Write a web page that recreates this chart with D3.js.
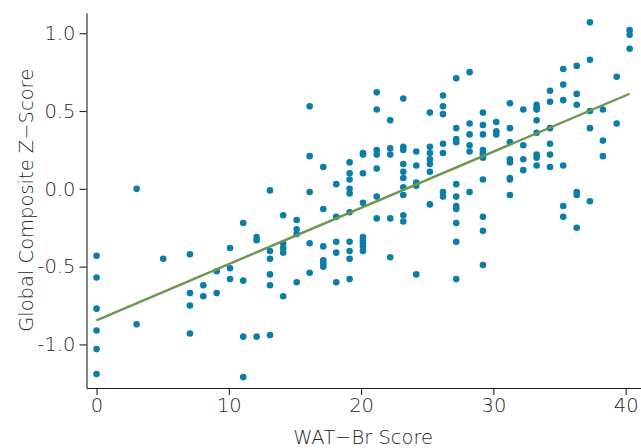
<!DOCTYPE html>
<html lang="en">
<head>
<meta charset="UTF-8" />
<title>WAT-Br Score vs Global Composite Z-Score</title>
<script src="https://d3js.org/d3.v7.min.js"></script>
<style>
  body { margin: 0; background: #fff; }
  svg text { font-family: "DejaVu Sans", sans-serif; font-weight: 300; }
  .dot { fill: #0a7ea8; }
  .fit { stroke: #6e9650; stroke-width: 2.4; fill: none; }
  .axis path, .axis line { stroke: #222; stroke-width: 1.1; }
  .axis text { fill: #262626; font-size: 19.5px; }
  .title { fill: #262626; font-size: 19.5px; }
</style>
</head>
<body>
<script>
// WAT-Br score columns
const scores = [0, 3.03, 5.04, 7.06, 8.07, 9.08, 10.09, 11.09, 12.1, 13.11, 14.11, 15.13,
  16.11, 17.14, 18.12, 19.13, 20.14, 21.18, 22.2, 23.19, 24.17, 25.2, 26.19, 27.19,
  28.2, 29.21, 30.22, 31.25, 32.26, 33.27, 34.28, 35.28, 36.3, 37.3, 38.28, 39.32, 40.3];

// global composite z-scores for each score column
const zScores = [
  [-0.43, -0.57, -0.77, -0.91, -1.03, -1.19],
  [0.00, -0.87],
  [-0.45],
  [-0.42, -0.67, -0.75, -0.93],
  [-0.62, -0.69],
  [-0.53, -0.67],
  [-0.38, -0.51, -0.58],
  [-0.22, -0.59, -0.95, -1.21],
  [-0.31, -0.33, -0.95],
  [-0.01, -0.40, -0.45, -0.55, -0.62, -0.94],
  [-0.17, -0.35, -0.38, -0.41, -0.69],
  [-0.20, -0.26, -0.29, -0.60],
  [0.53, 0.21, -0.02, -0.35, -0.54],
  [0.14, -0.13, -0.37, -0.46, -0.48, -0.50],
  [0.03, -0.18, -0.34, -0.41, -0.60],
  [0.17, 0.10, 0.06, 0.00, -0.03, -0.15, -0.34, -0.40, -0.45, -0.58],
  [0.23, 0.22, 0.10, -0.09, -0.31, -0.33, -0.35, -0.37, -0.40],
  [0.62, 0.51, 0.25, 0.22, 0.13, -0.05, -0.19],
  [0.44, 0.26, 0.22, -0.19, -0.44],
  [0.58, 0.27, 0.25, 0.16, 0.11, 0.07, 0.01, -0.04, -0.17, -0.21],
  [0.24, 0.15, 0.04, 0.02, -0.55],
  [0.49, 0.27, 0.23, 0.19, 0.16, 0.11, -0.10],
  [0.60, 0.53, 0.48, 0.29, 0.23, -0.02, -0.05],
  [0.71, 0.39, 0.32, 0.30, 0.03, -0.05, -0.11, -0.13, -0.22, -0.34, -0.58],
  [0.75, 0.42, 0.35, 0.28, 0.24, -0.02],
  [0.49, 0.41, 0.35, 0.25, 0.23, 0.21, 0.20, 0.06, -0.18, -0.27, -0.49],
  [0.43, 0.37, 0.35],
  [0.55, 0.39, 0.30, 0.19, 0.17, 0.07, 0.06, -0.04],
  [0.51, 0.28, 0.19, 0.12],
  [0.54, 0.52, 0.51, 0.44, 0.36, 0.22, 0.20, 0.15],
  [0.63, 0.56, 0.39, 0.29, 0.22, 0.14],
  [0.77, 0.67, 0.57, 0.15, -0.11, -0.18],
  [0.79, 0.61, 0.54, -0.02, -0.04, -0.25],
  [1.07, 0.83, 0.50, 0.39, -0.08],
  [0.51, 0.31, 0.21],
  [0.72, 0.42],
  [1.02, 0.99, 0.90]
];

const xTicks = [0, 10, 20, 30, 40];
const yTicks = [-1.0, -0.5, 0.0, 0.5, 1.0];
const xLabel = 'WAT\u2212Br Score';
const yLabel = 'Global Composite Z\u2212Score';

const width = 641, height = 448;
const margin = { top: 12.7, right: 0, bottom: 60, left: 86.5 };

// flatten into points
const points = [];
scores.forEach((s, i) => zScores[i].forEach(z => points.push({ x: s, y: z })));

const svg = d3.select('body').append('svg').attr('width', width).attr('height', height);

const x = d3.scaleLinear().domain([-0.76, 41.16]).range([margin.left, width - margin.right]);
const y = d3.scaleLinear().domain([-1.28, 1.132]).range([height - margin.bottom, margin.top]);

// axes
svg.append('g')
  .attr('class', 'axis')
  .attr('transform', `translate(0,${height - margin.bottom})`)
  .call(d3.axisBottom(x).tickValues(xTicks).tickSize(7).tickSizeOuter(0).tickPadding(3));

svg.append('g')
  .attr('class', 'axis')
  .attr('transform', `translate(${margin.left},0)`)
  .call(d3.axisLeft(y).tickValues(yTicks).tickSize(7).tickSizeOuter(0).tickPadding(4)
    .tickFormat(d => d.toFixed(1)));

// points
svg.append('g')
  .selectAll('circle')
  .data(points)
  .join('circle')
  .attr('class', 'dot')
  .attr('cx', d => x(d.x))
  .attr('cy', d => y(d.y))
  .attr('r', 3.3);

// least squares fit
const mx = d3.mean(points, d => d.x), my = d3.mean(points, d => d.y);
const slope = d3.sum(points, d => (d.x - mx) * (d.y - my)) / d3.sum(points, d => (d.x - mx) ** 2);
const icpt = my - slope * mx;
const [x0, x1] = d3.extent(points, d => d.x);

svg.append('line')
  .attr('class', 'fit')
  .attr('x1', x(x0)).attr('y1', y(icpt + slope * x0))
  .attr('x2', x(x1)).attr('y2', y(icpt + slope * x1));

// titles
svg.append('text')
  .attr('class', 'title')
  .attr('x', (x(0) + x(40)) / 2 + 2)
  .attr('y', 444)
  .attr('text-anchor', 'middle')
  .text(xLabel);

svg.append('text')
  .attr('class', 'title')
  .attr('transform', `translate(32.5,${(margin.top + height - margin.bottom) / 2}) rotate(-90)`)
  .attr('text-anchor', 'middle')
  .text(yLabel);
</script>
</body>
</html>
